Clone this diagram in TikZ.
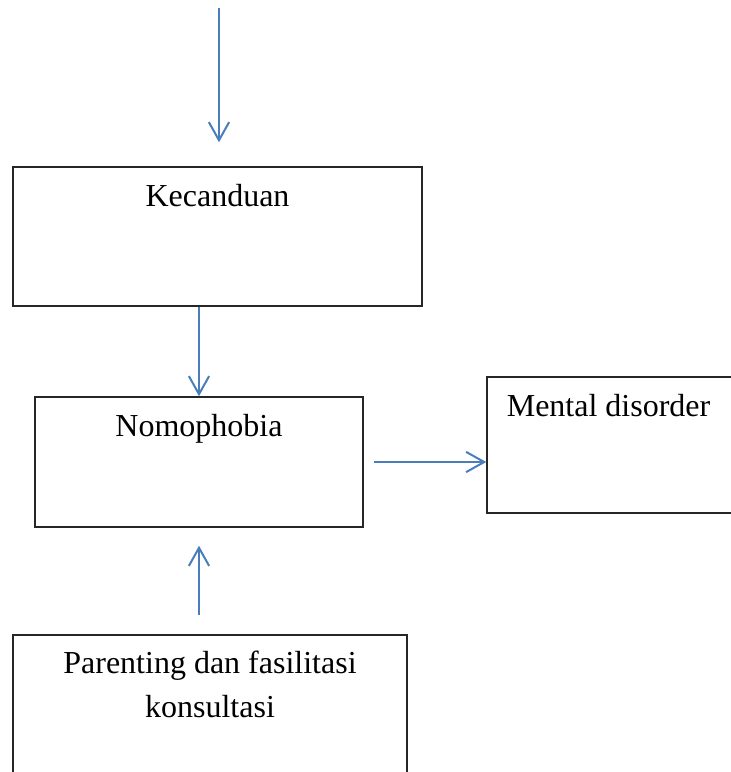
\documentclass[tikz,border=0pt]{standalone}
\usepackage{fontspec}
\setmainfont{Liberation Serif}
\usepackage{tikz}
\usetikzlibrary{arrows.meta,calc,positioning}
\definecolor{flowblue}{HTML}{4A7EBB}
\colorlet{boxline}{black!85}

\begin{document}
\begin{tikzpicture}[x=0.375pt,y=-0.375pt,
  box/.style={draw=boxline,line width=0.55pt,inner sep=0pt,rectangle},
  lbl/.style={font=\fontsize{12}{16.5}\selectfont,inner sep=0pt},
  flow/.style={draw=flowblue,line width=0.75pt,-{Straight Barb[length=6.8pt,width=7.6pt,line width=0.75pt]}}]
\useasboundingbox (0,0) rectangle (731,772);
\clip (0,0) rectangle (731,772);
% boxes
\node[box,minimum width=153.4pt,minimum height=52.1pt,
  label={[lbl,anchor=base,yshift=-15pt]north:Kecanduan}] (kecanduan) at (217.5,236.5) {};
\node[box,minimum width=123pt,minimum height=48.75pt,
  label={[lbl,anchor=base,yshift=-15pt]north:Nomophobia}] (nomophobia) at (199,462) {};
\node[box,minimum width=120pt,minimum height=51pt,
  label={[lbl,anchor=base west,xshift=7.5pt,yshift=-15pt]north west:Mental disorder}] (mental) at (647,445) {};
\node[box,minimum width=147.75pt,minimum height=58.1pt,
  label={[lbl,align=center,anchor=north,yshift=-6pt]north:Parenting dan fasilitasi\\konsultasi}] (parenting) at (210,712.5) {};
% arrows
\coordinate (start) at (219,8);
\draw[flow,shorten >=9pt] (start) -- (start |- kecanduan.north);
\draw[flow] (kecanduan.south -| nomophobia.north) -- (nomophobia.north);
\draw[flow,shorten <=7.1pt,shorten >=6.75pt] (parenting.north -| nomophobia.south) -- (nomophobia.south);
\draw[flow,shorten <=3.75pt] (nomophobia.east) -- (nomophobia.east -| mental.west);
\end{tikzpicture}
\end{document}
